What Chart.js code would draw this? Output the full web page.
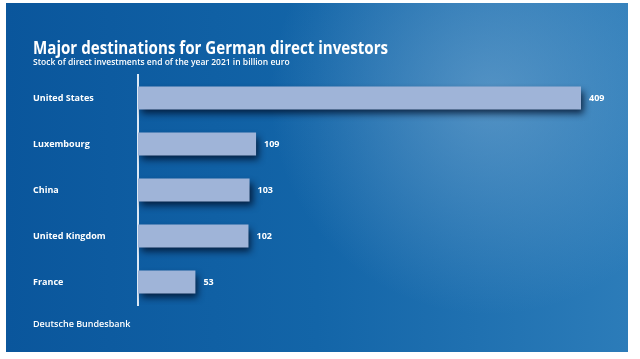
<!DOCTYPE html>
<html>
<head>
<meta charset="utf-8">
<script src="https://cdn.jsdelivr.net/npm/chart.js@4"></script>
<style>
  html, body { margin: 0; padding: 0; background: #fff; }
  #wrap { width: 640px; height: 359px; }
</style>
</head>
<body>
<div id="wrap"><canvas id="myChart" width="640" height="359"></canvas></div>
<script>
const countries = ['United States', 'Luxembourg', 'China', 'United Kingdom', 'France'];
const stock = [409, 109, 103, 102, 53];
const titleText = 'Major destinations for German direct investors';
const subtitleText = 'Stock of direct investments end of the year 2021 in billion euro';
const sourceText = 'Deutsche Bundesbank';

const ctx = document.getElementById('myChart');
const FONT = '"Open Sans", "Noto Sans", sans-serif';

// blue panel behind everything
const backdrop = {
  id: 'backdrop',
  beforeDraw(chart) {
    const c = chart.ctx;
    c.save();
    c.fillStyle = '#ffffff';
    c.fillRect(0, 0, chart.width, chart.height);
    const x0 = 6, y0 = 3, w = 622, h = 349;
    const lin = c.createLinearGradient(x0, 0, x0 + w, 0);
    lin.addColorStop(0, '#0a569c');
    lin.addColorStop(0.5, '#1365a8');
    lin.addColorStop(1, '#2c7cb9');
    c.fillStyle = lin;
    c.fillRect(x0, y0, w, h);
    const rad = c.createRadialGradient(490, 95, 10, 490, 95, 220);
    rad.addColorStop(0, 'rgba(120,170,210,0.55)');
    rad.addColorStop(1, 'rgba(120,170,210,0)');
    c.fillStyle = rad;
    c.fillRect(x0, y0, w, h);
    c.restore();
  },
  afterDraw(chart) {
    const c = chart.ctx;
    c.save();
    c.fillStyle = '#ffffff';
    c.textBaseline = 'alphabetic';
    // the original face is narrower, so squeeze the title a bit
    c.save();
    c.translate(33, 54);
    c.scale(0.84, 1);
    c.font = 'bold 18px ' + FONT;
    c.fillText(titleText, 0, 0);
    c.restore();
    c.font = '600 8.5px ' + FONT;
    c.fillText(subtitleText, 33, 65);
    c.font = '600 9px ' + FONT;
    c.fillText(sourceText, 33, 327);
    c.restore();
  }
};

// drop shadow under bars + value labels
const barDecor = {
  id: 'barDecor',
  beforeDatasetsDraw(chart) {
    const c = chart.ctx;
    c.save();
    c.shadowColor = 'rgba(0,15,40,0.8)';
    c.shadowBlur = 7;
    c.shadowOffsetX = 3;
    c.shadowOffsetY = 4;
  },
  afterDatasetsDraw(chart) {
    const c = chart.ctx;
    c.restore();
    c.save();
    c.fillStyle = '#ffffff';
    c.font = 'bold 9px ' + FONT;
    c.textBaseline = 'middle';
    chart.getDatasetMeta(0).data.forEach((bar, i) => {
      c.fillText(stock[i], bar.x + 8, bar.y);
    });
    c.restore();
  }
};

new Chart(ctx, {
  type: 'bar',
  data: {
    labels: countries,
    datasets: [{
      data: stock,
      backgroundColor: '#9fb4d8',
      borderWidth: 0,
      barPercentage: 0.5,
      categoryPercentage: 1
    }]
  },
  options: {
    indexAxis: 'y',
    responsive: false,
    animation: false,
    layout: { padding: { left: 33, top: 75, bottom: 54, right: 20 } },
    plugins: { legend: { display: false }, tooltip: { enabled: false } },
    scales: {
      x: { display: false, min: 0, max: 445 },
      y: {
        afterFit: scale => { scale.width = 105; },
        grid: { display: false, drawTicks: false },
        border: { color: '#dce9f6', width: 2 },
        ticks: {
          color: '#ffffff',
          crossAlign: 'far',
          padding: 0,
          font: { family: FONT, size: 9, weight: 'bold' }
        }
      }
    }
  },
  plugins: [backdrop, barDecor]
});
</script>
</body>
</html>
